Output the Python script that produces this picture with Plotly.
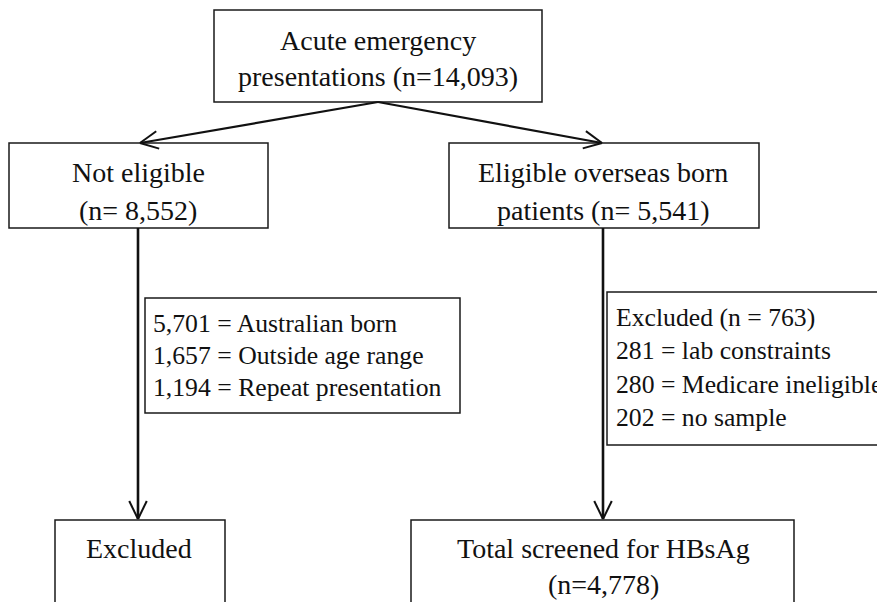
import math
import plotly.graph_objects as go

# ---- content (data) ----
box_titles = [
    ["Acute emergency", "presentations (n=14,093)"],
    ["Not eligible", "(n= 8,552)"],
    ["Eligible overseas born", "patients (n= 5,541)"],
    ["Excluded"],
    ["Total screened for HBsAg", "(n=4,778)"],
]
left_reasons = ["5,701 = Australian born", "1,657 = Outside age range", "1,194 = Repeat presentation"]
right_reasons = ["Excluded (n = 763)", "281 = lab constraints", "280 = Medicare ineligible", "202 = no sample"]

# ---- layout geometry (pixels, y down) ----
W, H = 877, 602
boxes = [  # x0, y0, x1, y1, text center x, line ys
    (214, 10, 542, 102, 378, [40, 76]),
    (9, 143, 268, 228, 138, [172, 210]),
    (449, 143, 759, 228, 603, [172, 210]),
    (55, 520, 225, 640, 139, [548]),
    (411, 520, 794, 640, 603, [548, 584]),
]
note_boxes = [
    (145, 298, 460, 413, 151, [323, 355, 387], left_reasons),
    (607, 292, 900, 445, 614, [317, 350, 384, 417], right_reasons),
]
arrows = [  # (x0, y0) -> (x1, y1), width
    ((378, 102), (140, 143), 2.2),
    ((378, 102), (602, 143), 2.2),
    ((138, 228), (138, 519), 2.6),
    ((603, 228), (603, 519), 2.6),
]

FONT = "Liberation Serif, Times New Roman, serif"
fig = go.Figure()
shapes = []
annotations = []

for (x0, y0, x1, y1, cx, ys), lines in zip(boxes, box_titles):
    shapes.append(dict(type="rect", x0=x0, y0=y0, x1=x1, y1=y1,
                       line=dict(color="#1a1a1a", width=1.5), xref="x", yref="y"))
    for t, y in zip(lines, ys):
        annotations.append(dict(x=cx, y=y, text=t, showarrow=False, xanchor="center",
                                yanchor="middle", font=dict(family=FONT, size=28, color="#111")))

for x0, y0, x1, y1, tx, ys, lines in note_boxes:
    shapes.append(dict(type="rect", x0=x0, y0=y0, x1=x1, y1=y1,
                       line=dict(color="#1a1a1a", width=1.5), xref="x", yref="y"))
    for t, y in zip(lines, ys):
        annotations.append(dict(x=tx, y=y, text=t, showarrow=False, xanchor="left",
                                yanchor="middle", font=dict(family=FONT, size=25.7, color="#111")))

for (p0, p1, w) in arrows:
    shapes.append(dict(type="line", x0=p0[0], y0=p0[1], x1=p1[0], y1=p1[1],
                       line=dict(color="#111", width=w), xref="x", yref="y"))
    ang = math.atan2(p1[1] - p0[1], p1[0] - p0[0])
    L, half = 20, math.radians(26)
    for s in (-1, 1):
        a = ang + math.pi + s * half
        shapes.append(dict(type="line", x0=p1[0], y0=p1[1],
                           x1=p1[0] + L * math.cos(a), y1=p1[1] + L * math.sin(a),
                           line=dict(color="#111", width=2), xref="x", yref="y"))

fig.update_layout(
    width=W, height=H, margin=dict(l=0, r=0, t=0, b=0),
    paper_bgcolor="white", plot_bgcolor="white",
    xaxis=dict(range=[0, W], visible=False, fixedrange=True),
    yaxis=dict(range=[H, 0], visible=False, fixedrange=True),
    shapes=shapes, annotations=annotations, showlegend=False,
)
fig.write_html("out.html", config={"displayModeBar": False},
               post_script="document.body.style.margin='0';document.body.style.overflow='hidden';")
